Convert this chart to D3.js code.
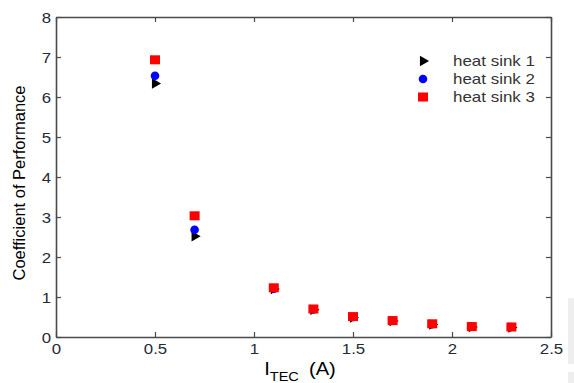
<!DOCTYPE html>
<html><head><meta charset="utf-8">
<script src="https://cdn.jsdelivr.net/npm/d3@7"></script>
<style>html,body{margin:0;padding:0;background:#fff;}svg{display:block;}</style>
</head><body>
<svg id="c" width="574" height="383"></svg>
<script>
const currents = [0.5, 0.7, 1.1, 1.3, 1.5, 1.7, 1.9, 2.1, 2.3];
const sink1 = [6.34, 2.52, 1.20, 0.68, 0.49, 0.40, 0.31, 0.25, 0.24];
const sink2 = [6.53, 2.68, 1.21, 0.69, 0.50, 0.41, 0.32, 0.26, 0.25];
const sink3 = [6.93, 3.03, 1.23, 0.70, 0.51, 0.41, 0.33, 0.26, 0.25];
const seriesNames = ["heat sink 1", "heat sink 2", "heat sink 3"];
const xTicks = [0, 0.5, 1, 1.5, 2, 2.5];
const yTicks = [0, 1, 2, 3, 4, 5, 6, 7, 8];

const svg = d3.select("#c");
const L = 56, R = 551, T = 17, B = 337;
const x = d3.scaleLinear().domain([0, 2.5]).range([L, R]);
const y = d3.scaleLinear().domain([0, 8]).range([B, T]);
const SX = 1.2; // horizontal stretch of the source image text

// faint artifact at right edge
svg.append("rect").attr("x", 568).attr("y", 298).attr("width", 6).attr("height", 66).attr("fill", "#eeeeee");
svg.append("rect").attr("x", 568).attr("y", 372).attr("width", 6).attr("height", 11).attr("fill", "#eeeeee");

const axColor = "#4a4a4a";
const fnt = "Liberation Sans, Arial, sans-serif";

const gx = svg.append("g").attr("transform", `translate(0,${B})`)
  .call(d3.axisBottom(x).tickValues(xTicks).tickSizeInner(-5).tickSizeOuter(0).tickPadding(7).tickFormat(d3.format("")));
const gxt = svg.append("g").attr("transform", `translate(0,${T})`)
  .call(d3.axisTop(x).tickValues(xTicks).tickSizeInner(-5).tickSizeOuter(0).tickFormat(""));
const gy = svg.append("g").attr("transform", `translate(${L},0)`)
  .call(d3.axisLeft(y).tickValues(yTicks).tickSizeInner(-5).tickSizeOuter(0).tickPadding(4));
const gyr = svg.append("g").attr("transform", `translate(${R},0)`)
  .call(d3.axisRight(y).tickValues(yTicks).tickSizeInner(-5).tickSizeOuter(0).tickFormat(""));
[gx, gxt, gy, gyr].forEach(g => {
  g.select(".domain").attr("stroke", axColor).attr("stroke-width", 1.6);
  g.selectAll(".tick line").attr("stroke", axColor).attr("stroke-width", 1.2);
  g.selectAll("text").attr("font-family", fnt).attr("font-size", 14).attr("fill", "#252a36")
    .attr("transform", `scale(${SX},1)`);
});
gy.selectAll("text").attr("dy", "0.36em");

// Axis labels
svg.append("text").attr("transform", `translate(25,183) rotate(-90)`)
  .attr("text-anchor", "middle").attr("font-family", fnt).attr("font-size", 16.5).attr("fill", "#000")
  .text("Coefficient of Performance");
const xl = svg.append("text").attr("transform", `translate(300,375) scale(1.12,1)`).attr("text-anchor", "middle")
  .attr("font-family", fnt).attr("font-size", 18).attr("fill", "#000");
xl.append("tspan").text("I");
xl.append("tspan").attr("font-size", 13).attr("dy", 6).text("TEC");
xl.append("tspan").attr("dy", -6).attr("dx", 9).text("(A)");

// markers
const tri = d3.symbol().type(d3.symbolTriangle).size(48);
function marker(g, kind, cx, cy) {
  if (kind === 0) g.append("path").attr("d", tri).attr("fill", "#000").attr("transform", `translate(${cx},${cy}) rotate(90)`);
  else if (kind === 1) g.append("circle").attr("cx", cx).attr("cy", cy).attr("r", 4.3).attr("fill", "#0000ff");
  else g.append("rect").attr("x", cx - 5).attr("y", cy - 4.5).attr("width", 10).attr("height", 9).attr("fill", "#ff0000");
}
[sink1, sink2, sink3].forEach((vals, k) => {
  const g = svg.append("g");
  currents.forEach((c, i) => marker(g, k, x(c), y(vals[i])));
});

// legend
const lg = svg.append("g");
const ly = [61, 79, 97];
seriesNames.forEach((n, i) => {
  marker(lg, i, 423, ly[i]);
  lg.append("text").attr("transform", `translate(453,${ly[i]}) scale(1.13,1)`).attr("dy", "0.35em")
    .attr("font-family", fnt).attr("font-size", 15).attr("fill", "#333").text(n);
});
</script>
</body></html>
